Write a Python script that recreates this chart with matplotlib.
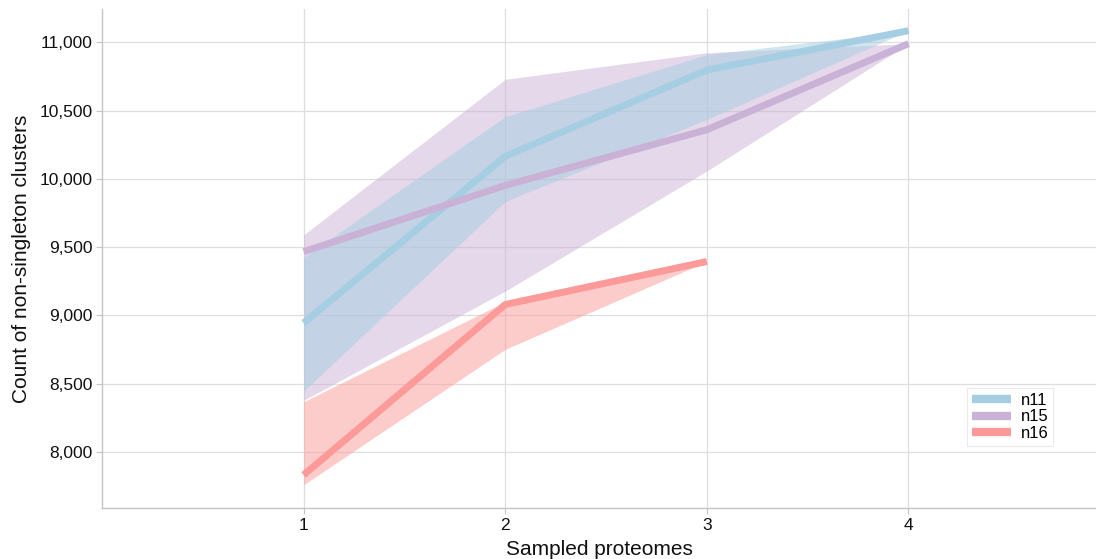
import matplotlib
matplotlib.use("Agg")
import matplotlib.pyplot as plt
from matplotlib.ticker import FuncFormatter

plt.rcParams['font.family'] = ['Liberation Sans', 'DejaVu Sans']

# Number of sampled proteomes
proteomes = [1, 2, 3, 4]
proteomes_n16 = [1, 2, 3]

# Mean count of non-singleton clusters and the spread band per group
n11_mean = [8945, 10165, 10797, 11085]
n11_low = [8445, 9835, 10435, 11085]
n11_high = [9425, 10456, 10910, 11085]

n15_mean = [9467, 9952, 10360, 10990]
n15_low = [8378, 9178, 10058, 10990]
n15_high = [9590, 10729, 10924, 10990]

n16_mean = [7832, 9080, 9395]
n16_low = [7760, 8752, 9395]
n16_high = [8368, 9100, 9395]

labels = ["n11", "n15", "n16"]
colors = ["#a6cee3", "#cab2d6", "#fb9a99"]

fig = plt.figure(figsize=(10.96, 5.59), dpi=100)
ax = fig.add_axes([102 / 1096, 1 - 508 / 559, 994 / 1096, 499 / 559])

# bands
ax.fill_between(proteomes, n15_low, n15_high, color=colors[1], alpha=0.5, linewidth=0, zorder=2)
ax.fill_between(proteomes, n11_low, n11_high, color=colors[0], alpha=0.5, linewidth=0, zorder=2)
ax.fill_between(proteomes_n16, n16_low, n16_high, color=colors[2], alpha=0.5, linewidth=0, zorder=2)

# mean lines
ax.plot(proteomes, n11_mean, color=colors[0], lw=5, solid_capstyle='butt', label=labels[0], zorder=3)
ax.plot(proteomes, n15_mean, color=colors[1], lw=5, solid_capstyle='butt', label=labels[1], zorder=3)
ax.plot(proteomes_n16, n16_mean, color=colors[2], lw=5, solid_capstyle='butt', label=labels[2], zorder=3)

ax.set_xlim(0, 4.93)
ax.set_ylim(7590, 11244)
ax.set_xticks(proteomes)
ax.set_yticks([8000, 8500, 9000, 9500, 10000, 10500, 11000])
ax.yaxis.set_major_formatter(FuncFormatter(lambda v, p: f"{int(v):,}"))

ax.grid(True, color="#dedede", linewidth=0.9, zorder=0)
ax.set_axisbelow(True)
for side in ["top", "right"]:
    ax.spines[side].set_visible(False)
for side in ["left", "bottom"]:
    ax.spines[side].set_color("#c4c4c4")
    ax.spines[side].set_linewidth(1.0)
ax.tick_params(axis='both', colors="#c4c4c4", labelcolor="#111111", labelsize=12.5, length=4, width=0.8)
ax.tick_params(axis='y', pad=3)
ax.tick_params(axis='x', pad=3)

ax.set_xlabel("Sampled proteomes", fontsize=15, color="#111111", labelpad=5)
ax.set_ylabel("Count of non-singleton clusters", fontsize=15, color="#111111", labelpad=6)

leg = ax.legend(loc='lower right', bbox_to_anchor=(0.957, 0.124), borderaxespad=0,
                fontsize=12, frameon=True, fancybox=False, handlelength=2.3,
                labelspacing=0.1, handletextpad=0.6, borderpad=0.3)
leg.get_frame().set_edgecolor("#e6e6e6")
leg.get_frame().set_linewidth(0.8)
for h in leg.get_lines():
    h.set_linewidth(6)

fig.savefig("out.png", dpi=100)
